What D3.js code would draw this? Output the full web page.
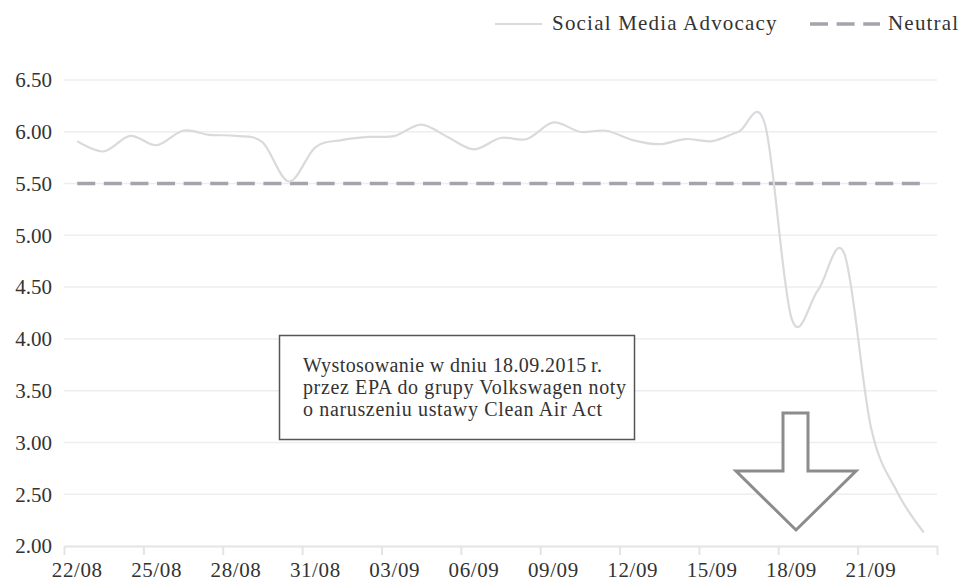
<!DOCTYPE html>
<html>
<head>
<meta charset="utf-8">
<script src="https://cdn.jsdelivr.net/npm/d3@7"></script>
<style>
  html, body { margin: 0; padding: 0; background: #ffffff; }
  svg { display: block; }
  text { font-family: "Liberation Serif", "Times New Roman", serif; fill: #333333; }
</style>
</head>
<body>
<svg id="chart" width="966" height="583"></svg>
<script>
const categories = ["22/08","23/08","24/08","25/08","26/08","27/08","28/08","29/08","30/08","31/08",
  "01/09","02/09","03/09","04/09","05/09","06/09","07/09","08/09","09/09","10/09","11/09","12/09",
  "13/09","14/09","15/09","16/09","17/09","18/09","19/09","20/09","21/09","22/09","23/09"];
const advocacy = [5.91,5.81,5.96,5.87,6.01,5.97,5.96,5.90,5.52,5.85,
  5.92,5.95,5.96,6.07,5.95,5.83,5.94,5.93,6.09,6.00,6.01,5.92,
  5.88,5.93,5.91,6.00,6.07,4.20,4.47,4.82,3.15,2.52,2.13];
const neutral = categories.map(() => 5.5);
const yTicks = [2.0,2.5,3.0,3.5,4.0,4.5,5.0,5.5,6.0,6.5];
const xLabelEvery = 3;
const seriesNames = ["Social Media Advocacy", "Neutral"];
const annotationLines = ["Wystosowanie w dniu 18.09.2015\u2009r.",
  "przez EPA do grupy Volkswagen noty",
  "o naruszeniu ustawy Clean Air Act"];
const annotationWidths = [299, 323, 299];

const FONT = "'Liberation Serif', 'Times New Roman', serif";
const svg = d3.select("#chart");
const plot = { left: 64, right: 937, top: 80, bottom: 546 };

const x = d3.scaleLinear().domain([0, categories.length]).range([plot.left, plot.right]);
const y = d3.scaleLinear().domain([2, 6.5]).range([plot.bottom, plot.top]);

// gridlines
svg.append("g").selectAll("line").data(yTicks.slice(1)).join("line")
  .attr("x1", plot.left).attr("x2", plot.right)
  .attr("y1", d => y(d)).attr("y2", d => y(d))
  .attr("stroke", "#eeeeee").attr("stroke-width", 1.5);

// y labels
svg.append("g").selectAll("text").data(yTicks).join("text")
  .attr("font-family", FONT)
  .attr("x", 52).attr("y", d => y(d)).attr("dy", "0.35em")
  .attr("text-anchor", "end").attr("font-size", 21)
  .text(d => d.toFixed(2));

// x axis
const xAxis = d3.axisBottom(x)
  .tickValues(d3.range(0, categories.length + 1, xLabelEvery))
  .tickSize(9).tickSizeOuter(0).tickFormat("");
const gx = svg.append("g").attr("transform", `translate(0,${plot.bottom})`).call(xAxis);
gx.select(".domain").attr("stroke", "#e4e4e4").attr("stroke-width", 2);
gx.selectAll(".tick line").attr("stroke", "#e4e4e4").attr("stroke-width", 2);

svg.append("g").selectAll("text")
  .data(categories.map((c, i) => ({ c, i })).filter(d => d.i % xLabelEvery === 0 && d.i < categories.length - 2))
  .join("text")
  .attr("font-family", FONT)
  .attr("x", d => x(d.i + 0.5))
  .attr("y", 577)
  .attr("text-anchor", "middle").attr("font-size", 21).attr("letter-spacing", 0.6)
  .text(d => d.c);

// neutral dashed line
const line = d3.line().x((d, i) => x(i + 0.5)).y(d => y(d));
svg.append("path").datum(neutral)
  .attr("d", line).attr("fill", "none")
  .attr("stroke", "#a4a4ac").attr("stroke-width", 3.5)
  .attr("stroke-dasharray", "18,8.6");

// advocacy smoothed line
const smooth = d3.line().x((d, i) => x(i + 0.5)).y(d => y(d)).curve(d3.curveCardinal.tension(0));
svg.append("path").datum(advocacy)
  .attr("d", smooth).attr("fill", "none")
  .attr("stroke", "#dadade").attr("stroke-width", 2.2);

// legend
const lg = svg.append("g");
lg.append("line").attr("x1", 495).attr("x2", 542).attr("y1", 24).attr("y2", 24)
  .attr("stroke", "#dadade").attr("stroke-width", 2.2);
lg.append("text").attr("font-family", FONT).attr("x", 552).attr("y", 30).attr("font-size", 21).attr("letter-spacing", 1.2)
  .text(seriesNames[0]);
lg.append("line").attr("x1", 810).attr("x2", 880).attr("y1", 24).attr("y2", 24)
  .attr("stroke", "#a4a4ac").attr("stroke-width", 3.5).attr("stroke-dasharray", "18,8.6");
lg.append("text").attr("font-family", FONT).attr("x", 888).attr("y", 30).attr("font-size", 21).attr("letter-spacing", 1.2)
  .text(seriesNames[1]);

// annotation box
svg.append("rect").attr("x", 279.5).attr("y", 335.5).attr("width", 355).attr("height", 104)
  .attr("fill", "#ffffff").attr("stroke", "#555555").attr("stroke-width", 1.5);
svg.append("g").selectAll("text").data(annotationLines).join("text")
  .attr("font-family", FONT)
  .attr("x", 303).attr("y", (d, i) => 372 + i * 22)
  .attr("font-size", 20)
  .attr("textLength", (d, i) => annotationWidths[i]).attr("lengthAdjust", "spacing")
  .text(d => d);

// arrow
const arrowPts = [[783,413],[808,413],[808,471],[856,471],[796,530],[736,471],[783,471]];
svg.append("path")
  .attr("d", d3.line()(arrowPts) + "Z")
  .attr("fill", "#ffffff").attr("stroke", "#8c8c8c").attr("stroke-width", 3)
  .attr("stroke-linejoin", "miter");
</script>
</body>
</html>
